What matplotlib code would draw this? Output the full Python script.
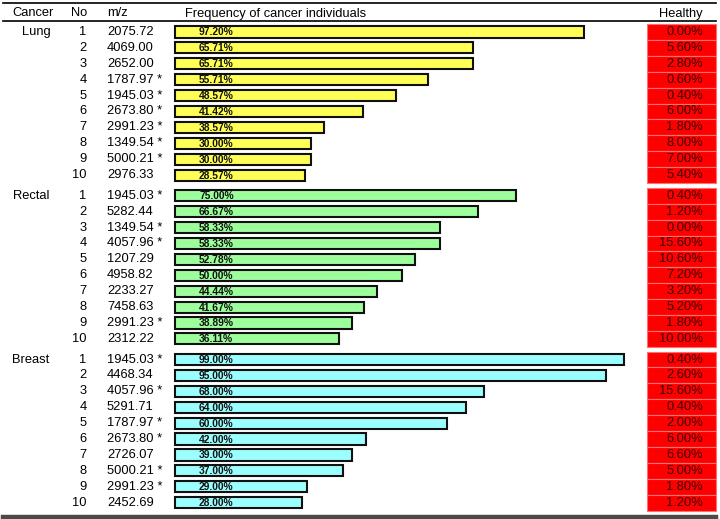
import matplotlib
matplotlib.use("Agg")
import matplotlib.pyplot as plt

groups = ["Lung", "Rectal", "Breast"]
numbers = list(range(1, 11))

lung_mz = ["2075.72", "4069.00", "2652.00", "1787.97 *", "1945.03 *", "2673.80 *",
           "2991.23 *", "1349.54 *", "5000.21 *", "2976.33"]
rectal_mz = ["1945.03 *", "5282.44", "1349.54 *", "4057.96 *", "1207.29", "4958.82",
             "2233.27", "7458.63", "2991.23 *", "2312.22"]
breast_mz = ["1945.03 *", "4468.34", "4057.96 *", "5291.71", "1787.97 *", "2673.80 *",
             "2726.07", "5000.21 *", "2991.23 *", "2452.69"]

lung_freq = [97.20, 65.71, 65.71, 55.71, 48.57, 41.42, 38.57, 30.00, 30.00, 28.57]
rectal_freq = [75.00, 66.67, 58.33, 58.33, 52.78, 50.00, 44.44, 41.67, 38.89, 36.11]
breast_freq = [99.00, 95.00, 68.00, 64.00, 60.00, 42.00, 39.00, 37.00, 29.00, 28.00]

# bar lengths as drawn in the reference (two Lung bars are drawn shorter than their labels)
lung_bar = [90.00, 65.71, 65.71, 55.71, 48.57, 41.42, 32.86, 30.00, 30.00, 28.57]
rectal_bar = rectal_freq
breast_bar = breast_freq

lung_healthy = [0.00, 5.60, 2.80, 0.60, 0.40, 6.00, 1.80, 8.00, 7.00, 5.40]
rectal_healthy = [0.40, 1.20, 0.00, 15.60, 10.60, 7.20, 3.20, 5.20, 1.80, 10.00]
breast_healthy = [0.40, 2.60, 15.60, 0.40, 2.00, 6.00, 6.60, 5.00, 1.80, 1.20]

headers = ["Cancer", "No", "m/z", "Frequency of cancer individuals", "Healthy"]

group_colors = ["#FFFF55", "#9CFF9C", "#9CFFFF"]

mz_all = [lung_mz, rectal_mz, breast_mz]
freq_all = [lung_freq, rectal_freq, breast_freq]
bar_all = [lung_bar, rectal_bar, breast_bar]
healthy_all = [lung_healthy, rectal_healthy, breast_healthy]

W, H = 720, 519
fig = plt.figure(figsize=(W / 100, H / 100), dpi=100)
ax = fig.add_axes([0, 0, 1, 1])
ax.set_axis_off()

X0 = 175.0      # pixel where bars start
SX = 4.54       # pixels per percent
Y0 = 32.0       # pixel centre of first row
SY = 15.9       # pixels per row
GAP = 0.3       # extra rows between groups

ax.set_xlim(-X0 / SX, (W - X0) / SX)
ax.set_ylim((H - Y0) / SY, -Y0 / SY)


def px(x):
    return (x - X0) / SX


def py(y):
    return (y - Y0) / SY


font = "Liberation Sans"
fs = 9.3

# header
ax.text(px(33), py(13.5), headers[0], ha="center", va="center", fontsize=fs, family=font)
ax.text(px(79), py(13.5), headers[1], ha="center", va="center", fontsize=fs, family=font)
ax.text(px(107), py(13.5), headers[2], ha="left", va="center", fontsize=fs, family=font)
ax.text(px(185), py(13.5), headers[3], ha="left", va="center", fontsize=fs, family=font)
ax.text(px(703), py(13.5), headers[4], ha="right", va="center", fontsize=fs, family=font)

x_line0, x_line1 = 3 / W, 716 / W
ax.axhline(py(3), x_line0, x_line1, color="black", lw=1.2)
ax.axhline(py(21), x_line0, x_line1, color="black", lw=1.2)
ax.axhline(py(516.5), x_line0, x_line1, color="#4a4a4a", lw=3.2)

name_x = [36, 31, 31]

for g, name in enumerate(groups):
    ys = [g * (10 + GAP) + i for i in range(10)]
    ax.text(px(name_x[g]), ys[0], name, ha="center", va="center", fontsize=fs, family=font)
    for i in range(10):
        ax.text(px(86.5), ys[i], str(numbers[i]), ha="right", va="center",
                fontsize=fs, family=font)
        ax.text(px(107), ys[i], mz_all[g][i], ha="left", va="center",
                fontsize=fs, family=font)
    ax.barh(ys, bar_all[g], left=0, height=0.7, color=group_colors[g],
            edgecolor="#111111", linewidth=1.5)
    for i in range(10):
        ax.text(px(199), ys[i] + 0.03, f"{freq_all[g][i]:.2f}%", ha="left", va="center",
                fontsize=7.4, fontweight="bold", family=font, color="#111111")
    # healthy column
    ax.barh(ys, [px(716) - px(647)] * 10, left=px(647), height=1.0, color="#FF0000",
            edgecolor="#FF7070", linewidth=0.8)
    for i in range(10):
        ax.text(px(703), ys[i], f"{healthy_all[g][i]:.2f}%", ha="right", va="center",
                fontsize=fs, family=font, color="#3a0000")

fig.savefig("out.png", dpi=100)
